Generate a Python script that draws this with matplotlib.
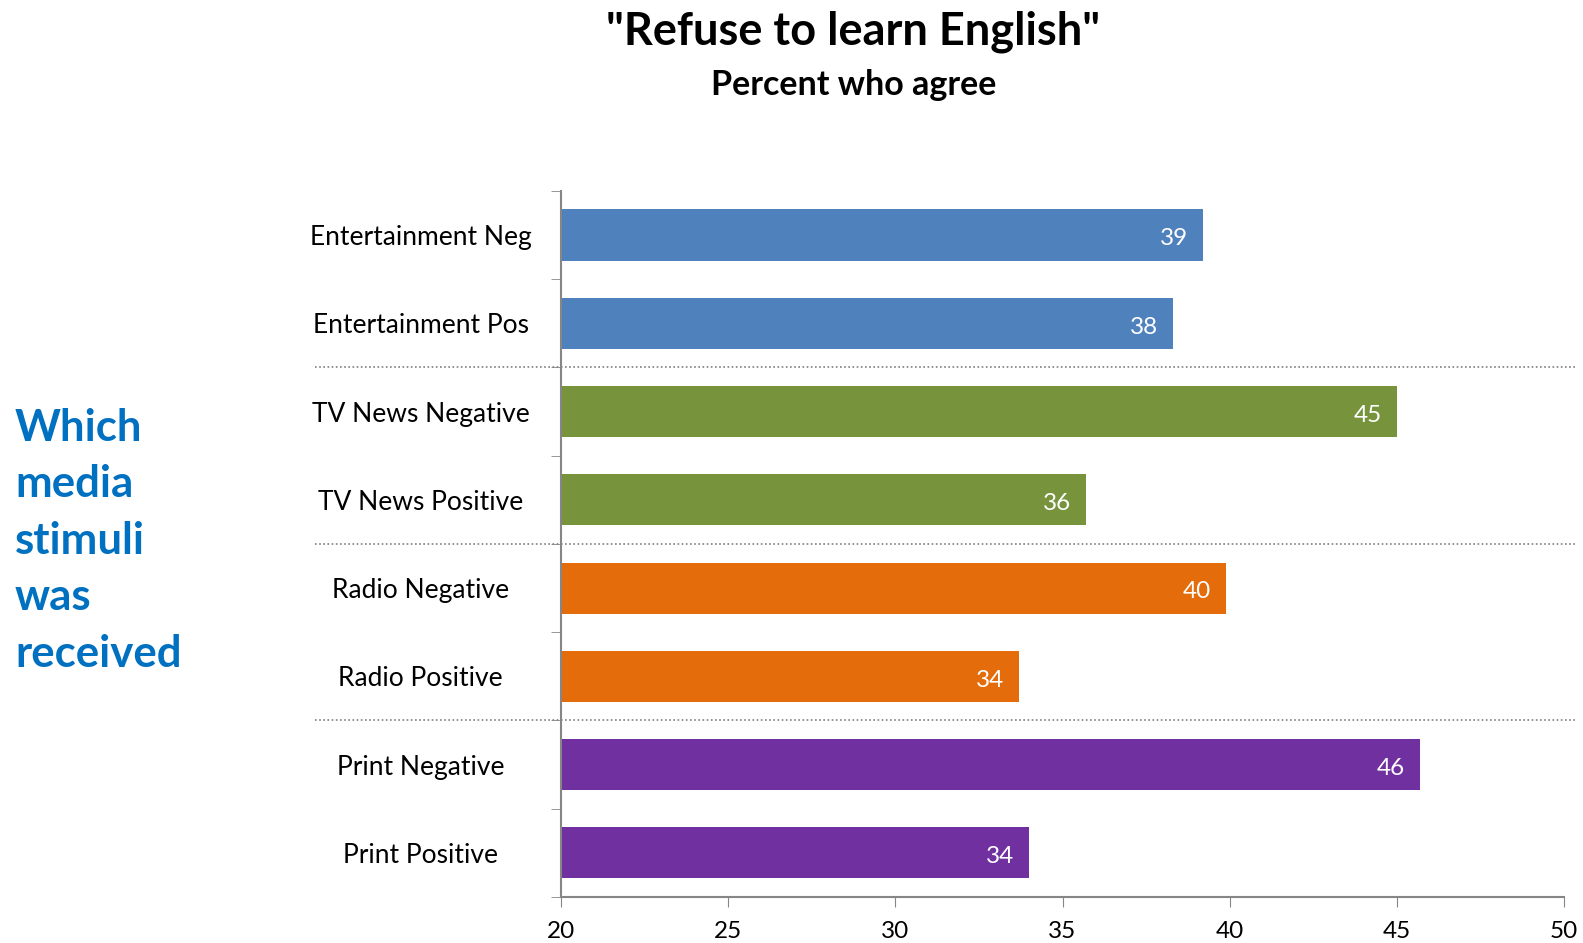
import numpy as np
import matplotlib.pyplot as plt

plt.rcParams['font.family'] = ['Lato', 'DejaVu Sans']

labels = ["Entertainment Neg", "Entertainment Pos", "TV News Negative", "TV News Positive",
          "Radio Negative", "Radio Positive", "Print Negative", "Print Positive"]
values = [39.2, 38.3, 45.0, 35.7, 39.9, 33.7, 45.7, 34.0]
colors = ["#4F81BD", "#4F81BD", "#77933C", "#77933C",
          "#E46C0A", "#E46C0A", "#7030A0", "#7030A0"]
xticks = [20, 25, 30, 35, 40, 45, 50]

fig = plt.figure(figsize=(15.83, 9.43), dpi=100)
ax = fig.add_axes([0.3544, 0.0488, 0.6336, 0.7487])

y = np.arange(len(labels))
ax.barh(y, [v - 20 for v in values], left=20, height=0.58, color=colors)
for yi, v in zip(y, values):
    ax.text(v - 0.45, yi + 0.02, f"{v:.0f}", ha='right', va='center_baseline',
            color='white', fontsize=17.5)

ax.set_xlim(20, 50)
ax.set_ylim(len(labels) - 0.5, -0.5)
ax.set_xticks(xticks)
ax.tick_params(axis='x', labelsize=17.5, length=7, color='#868686', direction='out', pad=10)

# category names on major ticks, boundary marks on minor ticks
ax.set_yticks(y)
ax.set_yticklabels(labels, ha='center')
ax.set_yticks(np.arange(-0.5, len(labels)), minor=True)
ax.tick_params(axis='y', which='major', length=0, pad=101, labelsize=19)
ax.tick_params(axis='y', which='minor', length=7, color='#868686', direction='out')

for side in ['top', 'right']:
    ax.spines[side].set_visible(False)
for side in ['left', 'bottom']:
    ax.spines[side].set_color('#868686')
    ax.spines[side].set_linewidth(1.5)

# dotted separators between media groups
for yb in [1.5, 3.5, 5.5]:
    ax.axhline(yb, xmin=-0.245, xmax=1.011, color='#7f7f7f', linestyle=(0, (1, 1.5)),
               linewidth=1.2, clip_on=False)

fig.text(0.539, 0.966, '"Refuse to learn English"', ha='center', va='center',
         fontsize=32.5, fontweight='bold')
fig.text(0.539, 0.910, 'Percent who agree', ha='center', va='center',
         fontsize=24.5, fontweight='bold')
fig.text(0.0095, 0.4263, 'Which\nmedia\nstimuli\nwas\nreceived', ha='left', va='center',
         fontsize=31.5, fontweight='bold', color='#0070C0', linespacing=1.5)

fig.savefig('out.png', dpi=100)
